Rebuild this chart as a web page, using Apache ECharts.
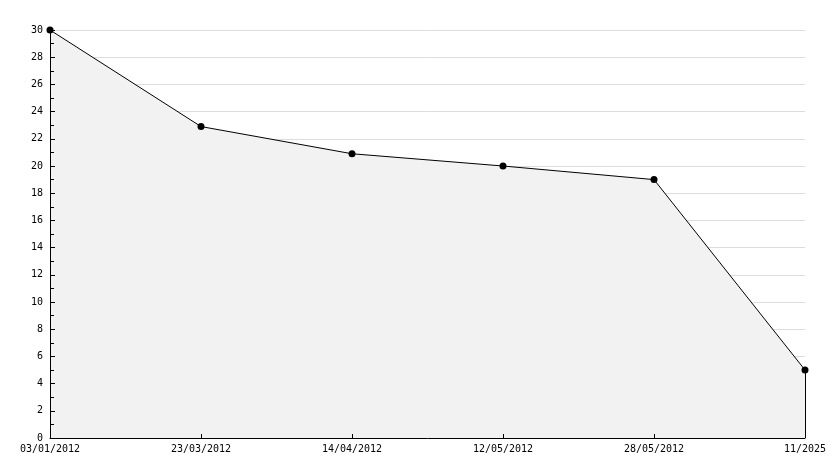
<!DOCTYPE html>
<html>
<head>
<meta charset="utf-8">
<script src="https://cdn.jsdelivr.net/npm/echarts@6/dist/echarts.min.js"></script>
<style>html,body{margin:0;padding:0;background:#fff}#c{width:834px;height:468px}</style>
</head>
<body>
<div id="c"></div>
<script>
const categories = ['03/01/2012','23/03/2012','14/04/2012','12/05/2012','28/05/2012','11/2025'];
const values = [30, 22.9, 20.9, 20, 19, 5];
const yMin = 0, yMax = 30, yInterval = 2;

const chart = echarts.init(document.getElementById('c'));
const font = 'DejaVu Sans Mono';
const lastCat = categories[categories.length - 1];
const lastVal = values[values.length - 1];
chart.setOption({
  animation: false,
  grid: {left: 50, right: 29, top: 30, bottom: 30},
  xAxis: {
    type: 'category', data: categories, boundaryGap: false, z: 10,
    axisLine: {lineStyle: {color: '#000', width: 1}},
    axisTick: {show: true, inside: true, length: 4, lineStyle: {color: '#000'}},
    axisLabel: {color: '#000', fontFamily: font, fontSize: 10, margin: 6, interval: 0},
    splitLine: {show: false}
  },
  yAxis: [{
    type: 'value', min: yMin, max: yMax, interval: yInterval, z: 0,
    axisLine: {show: false}, axisTick: {show: false}, axisLabel: {show: false},
    splitLine: {show: true, lineStyle: {color: '#dddddd', width: 1}}
  }, {
    type: 'value', min: yMin, max: yMax, interval: yInterval, position: 'left', z: 10,
    axisLine: {show: true, lineStyle: {color: '#000', width: 1}},
    axisTick: {show: true, inside: true, length: 5, lineStyle: {color: '#000'}},
    minorTick: {show: true, splitNumber: 2, length: 4, lineStyle: {color: '#000'}},
    axisLabel: {color: '#000', fontFamily: font, fontSize: 10, margin: 7},
    splitLine: {show: false}
  }],
  series: [{
    type: 'line', data: values, yAxisIndex: 0,
    symbol: 'circle', symbolSize: 7,
    itemStyle: {color: '#000'},
    lineStyle: {color: '#000', width: 1},
    areaStyle: {color: '#f2f2f2', opacity: 1},
    markLine: {
      silent: true, symbol: 'none', label: {show: false},
      lineStyle: {color: '#000', width: 1, type: 'solid'},
      data: [[{coord: [lastCat, lastVal]}, {coord: [lastCat, yMin]}]]
    }
  }]
});
</script>
</body>
</html>
